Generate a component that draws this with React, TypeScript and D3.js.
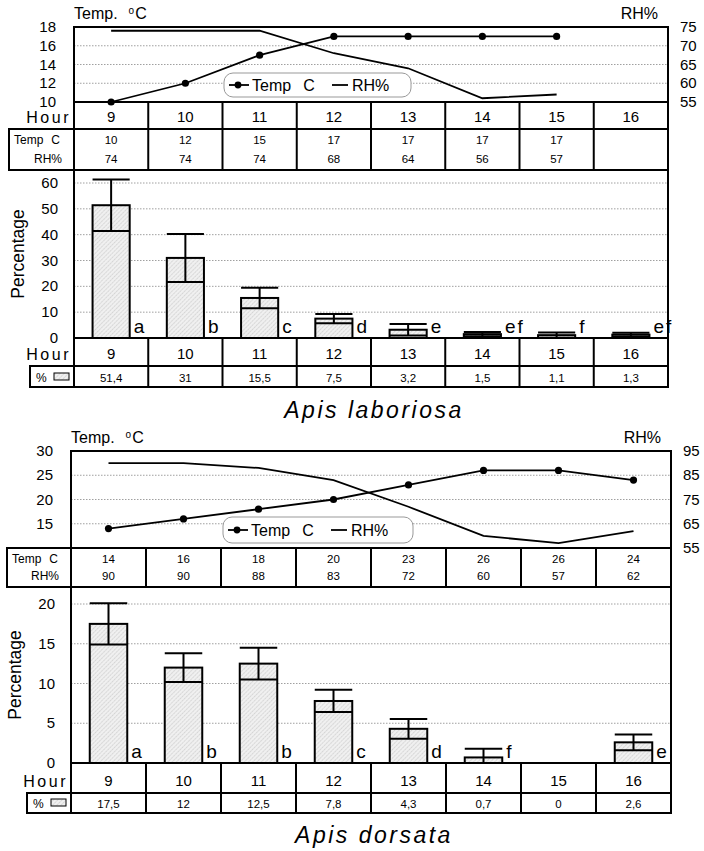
import * as d3 from 'd3';

// hours shared by both species
const hours = [9, 10, 11, 12, 13, 14, 15, 16];

// Apis laboriosa
const labTemp: (number | null)[] = [10, 12, 15, 17, 17, 17, 17, null];
const labRH: (number | null)[] = [74, 74, 74, 68, 64, 56, 57, null];
const labPct = [51.4, 31, 15.5, 7.5, 3.2, 1.5, 1.1, 1.3];
const labErr = [10, 9.3, 4, 1.8, 2.2, 0.8, 1, 0.7];
const labLetters = ['a', 'b', 'c', 'd', 'e', 'ef', 'f', 'ef'];

// Apis dorsata
const dorTemp: (number | null)[] = [14, 16, 18, 20, 23, 26, 26, 24];
const dorRH: (number | null)[] = [90, 90, 88, 83, 72, 60, 57, 62];
const dorPct = [17.5, 12, 12.5, 7.8, 4.3, 0.7, 0, 2.6];
const dorErr = [2.6, 1.8, 2, 1.4, 1.25, 1.1, 0, 1];
const dorLetters = ['a', 'b', 'b', 'c', 'd', 'f', '', 'e'];

const FONT = '"Liberation Sans", Arial, sans-serif';

interface BlockProps {
  temp: (number | null)[];
  rh: (number | null)[];
  pct: number[];
  err: number[];
  letters: string[];
  title: string;
  x0: number; x1: number;
  topY0: number; topY1: number;
  tempDomain: [number, number]; tempTicks: number[];
  rhDomain: [number, number]; rhTicks: number[];
  hourRowTop: boolean;
  tableY0: number; tableY1: number; tableLeft: number;
  barZeroY: number; barMaxY: number; barMax: number; barTicks: number[];
  hourY1: number; pctY1: number; pctLeft: number;
  titleY: number;
  legend: { x0: number; x1: number; y0: number; y1: number };
}

function Block(p: BlockProps) {
  const x = d3.scaleBand<number>().domain(hours).range([p.x0, p.x1]);
  const bw = x.bandwidth();
  const cx = (h: number) => (x(h) as number) + bw / 2;
  const yT = d3.scaleLinear().domain(p.tempDomain).range([p.topY1, p.topY0]);
  const yR = d3.scaleLinear().domain(p.rhDomain).range([p.topY1, p.topY0]);
  const yB = d3.scaleLinear().domain([0, p.barMax]).range([p.barZeroY, p.barMaxY]);

  const tempPts = hours.map((h, i) => [h, p.temp[i]] as [number, number | null]).filter(d => d[1] != null) as [number, number][];
  const rhPts = hours.map((h, i) => [h, p.rh[i]] as [number, number | null]).filter(d => d[1] != null) as [number, number][];
  const lineT = d3.line<[number, number]>().x(d => cx(d[0])).y(d => yT(d[1]));
  const lineR = d3.line<[number, number]>().x(d => cx(d[0])).y(d => yR(d[1]));

  const hourRow0 = p.tableY0 - 27;
  const barTop = p.tableY1;
  const barW = bw * 0.5;
  const lw = 2;
  const fmt = (v: number) => String(v).replace('.', ',');
  const L = p.legend;
  const lmid = (L.y0 + L.y1) / 2;

  return (
    <g fontFamily={FONT}>
      {/* top panel labels */}
      <text x={p.x0} y={p.topY0 - 8} fontSize={16}>Temp.
        <tspan dx={11} dy={-5} fontSize={10}>o</tspan>
        <tspan dx={1} dy={5}>C</tspan>
      </text>
      <text x={p.x1 - 10} y={p.topY0 - 8} fontSize={16} textAnchor="end">RH%</text>

      {/* gridlines top */}
      {p.tempTicks.filter(t => t !== p.tempDomain[0] && t !== p.tempDomain[1]).map(t => (
        <line key={'gt' + t} x1={p.x0} x2={p.x1} y1={yT(t)} y2={yT(t)} stroke="#888" strokeWidth={0.8} strokeDasharray="1.5,1.5" />
      ))}
      {p.tempTicks.map(t => (
        <text key={'tt' + t} x={p.x0 - 18} y={yT(t) + 5} fontSize={15} textAnchor="end">{t}</text>
      ))}
      {p.rhTicks.map(t => (
        <text key={'rt' + t} x={p.x1 + 12} y={yR(t) + 5} fontSize={15}>{t}</text>
      ))}

      {/* lines */}
      <path d={lineR(rhPts) || ''} fill="none" stroke="#000" strokeWidth={1.8} />
      <path d={lineT(tempPts) || ''} fill="none" stroke="#000" strokeWidth={1.8} />
      {tempPts.map(d => (
        <circle key={'c' + d[0]} cx={cx(d[0])} cy={yT(d[1])} r={3.6} fill="#000" />
      ))}

      {/* legend */}
      <rect x={L.x0} y={L.y0} width={L.x1 - L.x0} height={L.y1 - L.y0} rx={9} fill="#fff" stroke="#999" strokeWidth={1} />
      <line x1={L.x0 + 5} x2={L.x0 + 25} y1={lmid} y2={lmid} stroke="#000" strokeWidth={1.8} />
      <circle cx={L.x0 + 14} cy={lmid} r={3.4} fill="#000" />
      <text x={L.x0 + 28} y={lmid + 6} fontSize={16}>Temp<tspan dx={12}>C</tspan></text>
      <line x1={L.x0 + 108} x2={L.x0 + 124} y1={lmid} y2={lmid} stroke="#000" strokeWidth={1.8} />
      <text x={L.x0 + 128} y={lmid + 6} fontSize={16}>RH%</text>

      <rect x={p.x0} y={p.topY0} width={p.x1 - p.x0} height={p.topY1 - p.topY0} fill="none" stroke="#000" strokeWidth={lw} />

      {/* hour row above table */}
      {p.hourRowTop && (
        <g>
          <text x={p.x0 - 3} y={p.tableY0 - 6} fontSize={16} textAnchor="end" letterSpacing={2.5}>Hour</text>
          <rect x={p.x0} y={hourRow0} width={p.x1 - p.x0} height={27} fill="none" stroke="#000" strokeWidth={lw} />
          {hours.map(h => (
            <g key={'hr' + h}>
              <line x1={x(h)} x2={x(h)} y1={hourRow0} y2={p.tableY0} stroke="#000" strokeWidth={lw} />
              <text x={cx(h)} y={p.tableY0 - 7} fontSize={15} textAnchor="middle">{h}</text>
            </g>
          ))}
        </g>
      )}

      {/* temp / RH table */}
      <rect x={p.tableLeft} y={p.tableY0} width={p.x1 - p.tableLeft} height={p.tableY1 - p.tableY0} fill="none" stroke="#000" strokeWidth={lw} />
      <text x={p.tableLeft + 5} y={p.tableY0 + 15} fontSize={12}>Temp<tspan dx={8}>C</tspan></text>
      <text x={p.x0 - 12} y={p.tableY1 - 7} fontSize={12} textAnchor="end">RH%</text>
      {hours.map((h, i) => (
        <g key={'tb' + h}>
          <line x1={x(h)} x2={x(h)} y1={p.tableY0} y2={p.tableY1} stroke="#000" strokeWidth={lw} />
          {p.temp[i] != null && <text x={cx(h)} y={p.tableY0 + 15} fontSize={11.5} textAnchor="middle">{p.temp[i]}</text>}
          {p.rh[i] != null && <text x={cx(h)} y={p.tableY1 - 7} fontSize={11.5} textAnchor="middle">{p.rh[i]}</text>}
        </g>
      ))}

      {/* bar chart */}
      {p.barTicks.filter(t => t !== 0).map(t => (
        <line key={'gb' + t} x1={p.x0} x2={p.x1} y1={yB(t)} y2={yB(t)} stroke="#888" strokeWidth={0.8} strokeDasharray="1.5,1.5" />
      ))}
      {p.barTicks.map(t => (
        <text key={'bt' + t} x={p.x0 - 16} y={yB(t) + 5} fontSize={15} textAnchor="end">{t}</text>
      ))}
      <text transform={`translate(${p.x0 - 50},${(barTop + p.barZeroY) / 2}) rotate(-90)`} fontSize={17.5} textAnchor="middle">Percentage</text>
      {hours.map((h, i) => {
        const v = p.pct[i];
        if (v <= 0) return null;
        const bx = cx(h) - barW / 2;
        const hi = yB(v + p.err[i]);
        const lo = yB(Math.max(0, v - p.err[i]));
        return (
          <g key={'bar' + h}>
            <rect x={bx} y={yB(v)} width={barW} height={p.barZeroY - yB(v)} fill="url(#hatch)" stroke="#000" strokeWidth={lw} />
            <line x1={bx} x2={bx + barW} y1={lo} y2={lo} stroke="#000" strokeWidth={lw} />
            <line x1={cx(h)} x2={cx(h)} y1={lo} y2={hi} stroke="#000" strokeWidth={lw} />
            <line x1={bx} x2={bx + barW} y1={hi} y2={hi} stroke="#000" strokeWidth={lw} />
          </g>
        );
      })}
      {hours.map((h, i) => (
        <text key={'lt' + h} x={cx(h) + barW / 2 + 4} y={p.barZeroY - 5} fontSize={19} letterSpacing={2}>{p.letters[i]}</text>
      ))}
      <line x1={p.x0} x2={p.x0} y1={barTop} y2={p.barZeroY} stroke="#000" strokeWidth={lw} />
      <line x1={p.x1} x2={p.x1} y1={barTop} y2={p.barZeroY} stroke="#000" strokeWidth={lw} />

      {/* hour row below bars */}
      <text x={p.x0 - 3} y={p.hourY1 - 6} fontSize={16} textAnchor="end" letterSpacing={2.5}>Hour</text>
      <rect x={p.x0} y={p.barZeroY} width={p.x1 - p.x0} height={p.hourY1 - p.barZeroY} fill="none" stroke="#000" strokeWidth={lw} />
      <rect x={p.pctLeft} y={p.hourY1} width={p.x1 - p.pctLeft} height={p.pctY1 - p.hourY1} fill="none" stroke="#000" strokeWidth={lw} />
      <text x={p.pctLeft + 6} y={p.pctY1 - 5} fontSize={12}>%</text>
      <rect x={p.pctLeft + 24} y={p.pctY1 - 14} width={15} height={7} fill="url(#hatch)" stroke="#000" strokeWidth={1} />
      {hours.map((h, i) => (
        <g key={'hb' + h}>
          <line x1={x(h)} x2={x(h)} y1={p.barZeroY} y2={p.pctY1} stroke="#000" strokeWidth={lw} />
          <text x={cx(h)} y={p.hourY1 - 7} fontSize={15} textAnchor="middle">{h}</text>
          <text x={cx(h)} y={p.pctY1 - 5} fontSize={11.5} textAnchor="middle">{fmt(p.pct[i])}</text>
        </g>
      ))}

      <text x={374} y={p.titleY} fontSize={23} fontStyle="italic" textAnchor="middle" letterSpacing={2.5}>{p.title}</text>
    </g>
  );
}

export default function App() {
  return (
    <svg width={704} height={851} style={{ position: 'absolute', left: 0, top: 0, background: '#fff' }}>
      <defs>
        <pattern id="hatch" width={3} height={3} patternUnits="userSpaceOnUse" patternTransform="rotate(45)">
          <rect width={3} height={3} fill="#f0f0f0" />
          <line x1={0} y1={0} x2={0} y2={3} stroke="#aaa" strokeWidth={0.8} strokeDasharray="1.5,0.8" />
        </pattern>
      </defs>
      <rect width={704} height={851} fill="#fff" />
      <Block
        temp={labTemp} rh={labRH} pct={labPct} err={labErr} letters={labLetters}
        title="Apis laboriosa"
        x0={74} x1={668} topY0={27} topY1={102}
        tempDomain={[10, 18]} tempTicks={[10, 12, 14, 16, 18]}
        rhDomain={[55, 75]} rhTicks={[55, 60, 65, 70, 75]}
        hourRowTop={true}
        tableY0={129} tableY1={170} tableLeft={9}
        barZeroY={338} barMaxY={183} barMax={60} barTicks={[0, 10, 20, 30, 40, 50, 60]}
        hourY1={366} pctY1={387} pctLeft={30}
        titleY={418}
        legend={{ x0: 224, x1: 411, y0: 73, y1: 97 }}
      />
      <Block
        temp={dorTemp} rh={dorRH} pct={dorPct} err={dorErr} letters={dorLetters}
        title="Apis dorsata"
        x0={71} x1={671} topY0={451} topY1={548}
        tempDomain={[10, 30]} tempTicks={[15, 20, 25, 30]}
        rhDomain={[55, 95]} rhTicks={[55, 65, 75, 85, 95]}
        hourRowTop={false}
        tableY0={548} tableY1={587} tableLeft={7}
        barZeroY={763} barMaxY={604} barMax={20} barTicks={[0, 5, 10, 15, 20]}
        hourY1={793} pctY1={813} pctLeft={27}
        titleY={843}
        legend={{ x0: 223, x1: 413, y0: 517, y1: 543 }}
      />
    </svg>
  );
}
